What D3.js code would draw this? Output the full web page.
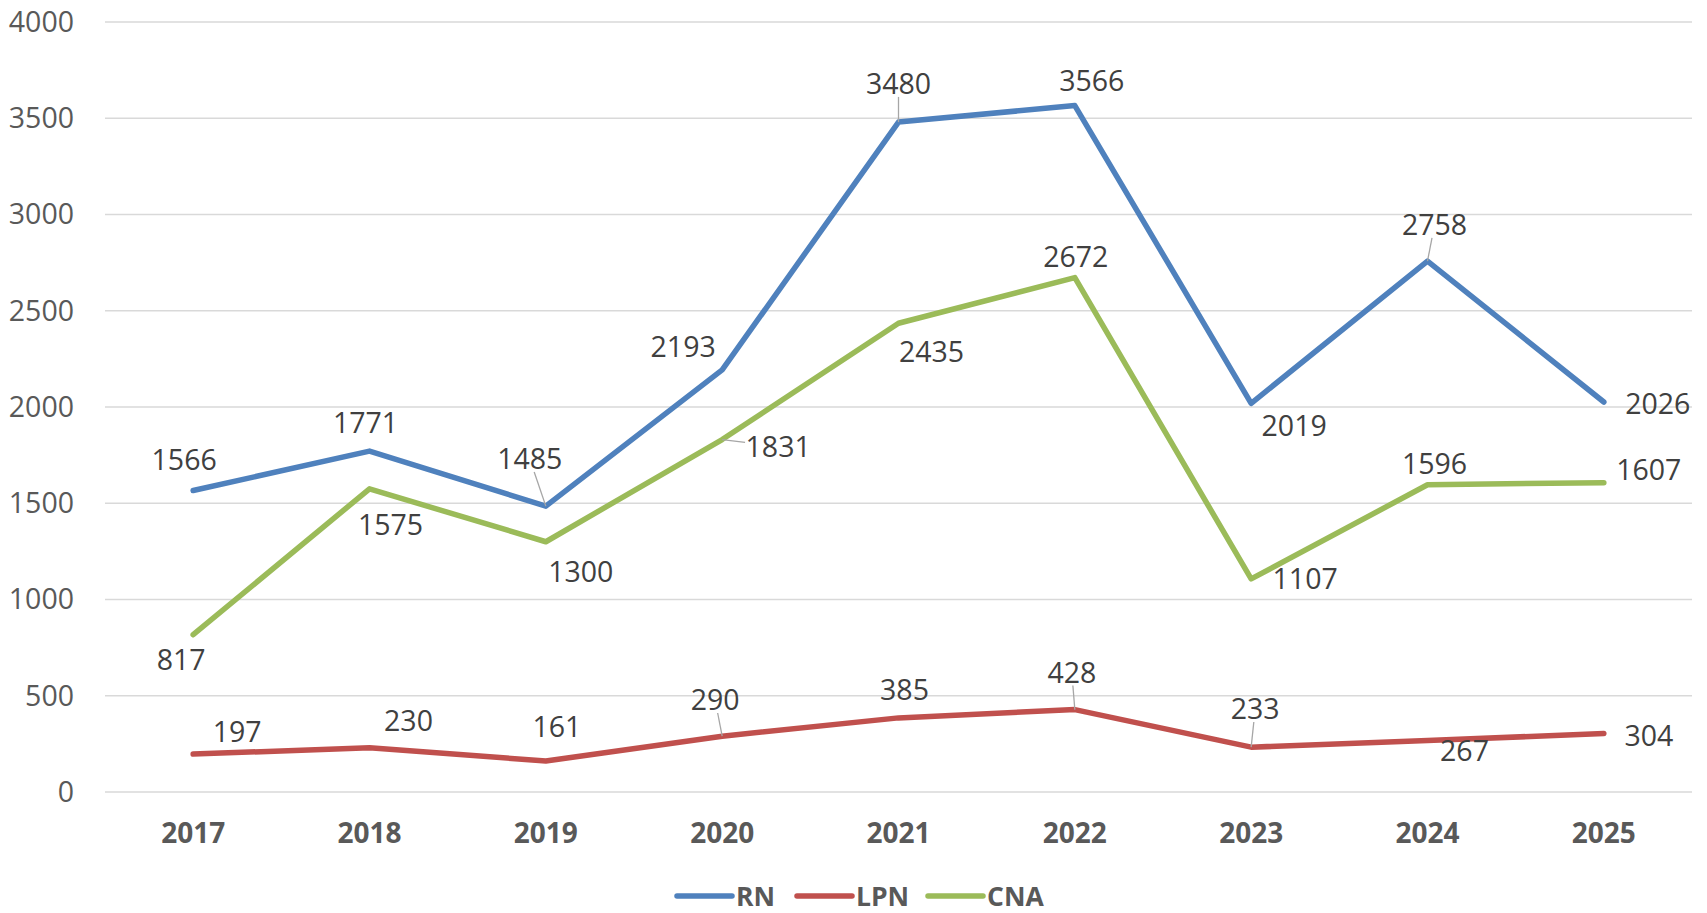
<!DOCTYPE html>
<html>
<head>
<meta charset="utf-8">
<script src="https://cdn.jsdelivr.net/npm/d3@7"></script>
<style>
  html, body { margin: 0; padding: 0; background: #fff; }
  svg { display: block; font-family: "Open Sans", "Noto Sans", sans-serif; }
</style>
</head>
<body>
<svg id="chart" width="1707" height="913"></svg>
<script>
const years = ["2017", "2018", "2019", "2020", "2021", "2022", "2023", "2024", "2025"];
const rnValues = [1566, 1771, 1485, 2193, 3480, 3566, 2019, 2758, 2026];
const lpnValues = [197, 230, 161, 290, 385, 428, 233, 267, 304];
const cnaValues = [817, 1575, 1300, 1831, 2435, 2672, 1107, 1596, 1607];
const yTicks = [0, 500, 1000, 1500, 2000, 2500, 3000, 3500, 4000];

// label offsets from the point (label centre), and which ones get a leader line
const rnLabelOffsets = [[-9, -31], [-4, -28], [-16, -47], [-39, -23], [0, -38], [17, -25], [43, 23], [7, -36], [54, 2]];
const lpnLabelOffsets = [[44, -22], [39, -27], [11, -34], [-7, -36], [6, -28], [-3, -37], [4, -38], [37, 10], [45, 3]];
const cnaLabelOffsets = [[-12, 25], [21, 36], [35, 30], [56, 7], [33, 29], [1, -21], [54, 0], [7, -21], [45, -13]];
const rnLeaders = [false, false, true, false, true, false, false, true, false];
const lpnLeaders = [false, false, false, true, false, true, true, false, false];
const cnaLeaders = [false, false, false, true, false, false, false, false, false];

const series = [
  { name: "RN", values: rnValues, color: "#4F81BD", offsets: rnLabelOffsets, leaders: rnLeaders },
  { name: "LPN", values: lpnValues, color: "#C0504D", offsets: lpnLabelOffsets, leaders: lpnLeaders },
  { name: "CNA", values: cnaValues, color: "#9BBB59", offsets: cnaLabelOffsets, leaders: cnaLeaders }
];

const margin = { left: 105, right: 15, top: 22, bottom: 121 };
const width = 1707, height = 913;

const svg = d3.select("#chart");

const x = d3.scaleBand()
  .domain(years)
  .range([margin.left, width - margin.right]);

const y = d3.scaleLinear()
  .domain([0, 4000])
  .range([height - margin.bottom, margin.top]);

const cx = d => x(d) + x.bandwidth() / 2;

// gridlines
svg.append("g")
  .selectAll("line")
  .data(yTicks)
  .join("line")
  .attr("x1", margin.left)
  .attr("x2", width - margin.right)
  .attr("y1", d => y(d))
  .attr("y2", d => y(d))
  .attr("stroke", "#d9d9d9")
  .attr("stroke-width", 1.3);

// y axis labels
svg.append("g")
  .selectAll("text")
  .data(yTicks)
  .join("text")
  .attr("x", 74)
  .attr("y", d => y(d))
  .attr("dy", "0.35em")
  .attr("text-anchor", "end")
  .attr("fill", "#595959")
  .attr("font-size", 28.5)
  .text(d => d);

// x axis labels
svg.append("g")
  .selectAll("text")
  .data(years)
  .join("text")
  .attr("x", d => cx(d))
  .attr("y", 833)
  .attr("dy", "0.35em")
  .attr("text-anchor", "middle")
  .attr("fill", "#595959")
  .attr("font-size", 28)
  .attr("font-weight", "bold")
  .text(d => d);

const line = d3.line()
  .x((d, i) => cx(years[i]))
  .y(d => y(d));

// lines
svg.append("g")
  .selectAll("path")
  .data(series)
  .join("path")
  .attr("d", s => line(s.values))
  .attr("fill", "none")
  .attr("stroke", s => s.color)
  .attr("stroke-width", 5.5)
  .attr("stroke-linejoin", "round")
  .attr("stroke-linecap", "round");

// data labels
const labelFont = 28.5;
series.forEach(s => {
  const g = svg.append("g");
  s.values.forEach((v, i) => {
    const px = cx(years[i]), py = y(v);
    const [dx, dy] = s.offsets[i];
    const lx = px + dx, ly = py + dy;
    if (s.leaders[i]) {
      const hw = String(v).length * labelFont * 0.29, hh = labelFont * 0.45;
      const t = Math.min(dx === 0 ? Infinity : hw / Math.abs(dx), dy === 0 ? Infinity : hh / Math.abs(dy));
      const ex = lx - dx * t, ey = ly - dy * t;
      g.append("line")
        .attr("x1", px).attr("y1", py)
        .attr("x2", ex).attr("y2", ey)
        .attr("stroke", "#a6a6a6")
        .attr("stroke-width", 1.3);
    }
    g.append("text")
      .attr("x", lx)
      .attr("y", ly)
      .attr("dy", "0.35em")
      .attr("text-anchor", "middle")
      .attr("fill", "#404040")
      .attr("font-size", labelFont)
      .text(v);
  });
});

// legend
const legendItems = [
  { name: "RN", x: 677 },
  { name: "LPN", x: 797 },
  { name: "CNA", x: 928 }
];
const legend = svg.append("g");
legendItems.forEach((it, i) => {
  legend.append("line")
    .attr("x1", it.x).attr("x2", it.x + 55)
    .attr("y1", 896).attr("y2", 896)
    .attr("stroke", series[i].color)
    .attr("stroke-width", 5.5)
    .attr("stroke-linecap", "round");
  legend.append("text")
    .attr("x", it.x + 59)
    .attr("y", 896)
    .attr("dy", "0.36em")
    .attr("fill", "#595959")
    .attr("font-size", 26.5)
    .attr("font-weight", "bold")
    .text(it.name);
});
</script>
</body>
</html>
